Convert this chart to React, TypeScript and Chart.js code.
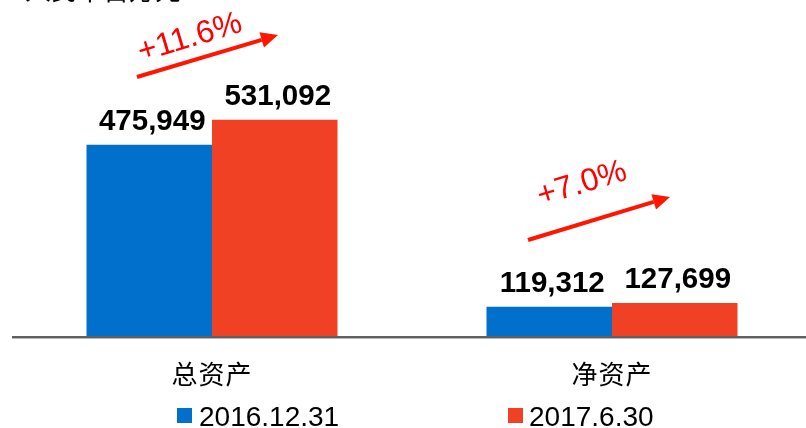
import React, { useEffect, useRef } from "react";
import { Chart, registerables } from "chart.js";

Chart.register(...registerables);

const categories = ["总资产", "净资产"];
const seriesNames = ["2016.12.31", "2017.6.30"];
const values2016 = [475949, 119312];
const values2017 = [531092, 127699];
const growthLabels = ["+11.6%", "+7.0%"];
const unitText = "人民币百万元";

const BLUE = "#0070cc";
const RED = "#f04125";

const annotations = [
  { from: [137, 77], to: [278, 35], text: [190, 38] },
  { from: [528, 240], to: [670, 197], text: [582, 184] },
];

const fmt = (v: number) => v.toLocaleString("en-US");

const overlayPlugin = {
  id: "overlay",
  afterDatasetsDraw(chart: any) {
    const ctx = chart.ctx;
    const area = chart.chartArea;
    const xs = chart.scales.x;
    ctx.save();

    // axis line
    ctx.fillStyle = "#606060";
    ctx.fillRect(12, area.bottom, 800, 2);
    ctx.fillStyle = "#b8b8b8";
    ctx.fillRect(12, area.bottom + 2, 800, 1);

    // value labels
    ctx.fillStyle = "#000";
    ctx.font = "bold 29.5px 'Liberation Sans', Arial, sans-serif";
    ctx.textAlign = "center";
    ctx.textBaseline = "alphabetic";
    chart.data.datasets.forEach((ds: any, di: number) => {
      const meta = chart.getDatasetMeta(di);
      meta.data.forEach((bar: any, i: number) => {
        ctx.fillText(fmt(ds.data[i]), bar.x + 3, bar.y - 15);
      });
    });

    // category labels
    ctx.font = "26px 'Noto Sans CJK SC', sans-serif";
    ctx.textBaseline = "middle";
    try {
      (ctx as any).letterSpacing = "1px";
    } catch (e) {}
    categories.forEach((c, i) => {
      const x = xs.getPixelForValue(i);
      ctx.fillText(c, x, 374);
    });
    try {
      (ctx as any).letterSpacing = "0px";
    } catch (e) {}

    // growth arrows
    annotations.forEach((a, i) => {
      const [x1, y1] = a.from;
      const [x2, y2] = a.to;
      const ang = Math.atan2(y2 - y1, x2 - x1);
      const headLen = 17;
      const headW = 8;
      const bx = x2 - headLen * Math.cos(ang);
      const by = y2 - headLen * Math.sin(ang);
      ctx.strokeStyle = "#ff1500";
      ctx.fillStyle = "#ff1500";
      ctx.lineWidth = 4;
      ctx.lineCap = "butt";
      ctx.beginPath();
      ctx.moveTo(x1, y1);
      ctx.lineTo(bx, by);
      ctx.stroke();
      ctx.beginPath();
      ctx.moveTo(x2, y2);
      ctx.lineTo(bx + headW * Math.sin(ang), by - headW * Math.cos(ang));
      ctx.lineTo(bx - headW * Math.sin(ang), by + headW * Math.cos(ang));
      ctx.closePath();
      ctx.fill();

      ctx.save();
      ctx.translate(a.text[0], a.text[1]);
      ctx.rotate(ang);
      ctx.fillStyle = "#ff0000";
      ctx.font = "32px 'Liberation Sans', Arial, sans-serif";
      ctx.textAlign = "center";
      ctx.textBaseline = "middle";
      ctx.fillText(growthLabels[i], 0, 0);
      ctx.restore();
    });

    // legend
    const legendPos = [
      [177, 199],
      [508, 529],
    ];
    const colors = [BLUE, RED];
    ctx.font = "28px 'Liberation Sans', Arial, sans-serif";
    ctx.textAlign = "left";
    ctx.textBaseline = "alphabetic";
    seriesNames.forEach((n, i) => {
      ctx.fillStyle = colors[i];
      ctx.fillRect(legendPos[i][0], 408, 15, 15);
      ctx.fillStyle = "#000";
      ctx.fillText(n, legendPos[i][1], 426);
    });

    // cut-off unit text at top
    ctx.font = "26px 'Noto Sans CJK SC', sans-serif";
    ctx.fillStyle = "#000";
    ctx.fillText(unitText, 25, 0);

    ctx.restore();
  },
};

export default function App() {
  const ref = useRef<HTMLCanvasElement | null>(null);
  useEffect(() => {
    if (!ref.current) return;
    const chart = new Chart(ref.current, {
      type: "bar",
      data: {
        labels: categories,
        datasets: [
          {
            label: seriesNames[0],
            data: values2016,
            backgroundColor: BLUE,
            categoryPercentage: 0.6275,
            barPercentage: 1,
          },
          {
            label: seriesNames[1],
            data: values2017,
            backgroundColor: RED,
            categoryPercentage: 0.6275,
            barPercentage: 1,
          },
        ],
      },
      options: {
        responsive: false,
        animation: false,
        devicePixelRatio: 1,
        layout: { padding: { left: 12, right: 0, top: 0, bottom: 92 } },
        plugins: {
          legend: { display: false },
          tooltip: { enabled: false },
        },
        scales: {
          x: { display: false },
          y: { display: false, min: 55000, max: 795000 },
        },
      },
      plugins: [overlayPlugin],
    });
    return () => chart.destroy();
  }, []);
  return (
    <div
      style={{
        position: "absolute",
        left: 0,
        top: 0,
        width: 806,
        height: 428,
        overflow: "hidden",
        background: "#fff",
      }}
    >
      <canvas ref={ref} width={812} height={428} style={{ width: 812, height: 428, display: "block" }} />
    </div>
  );
}
